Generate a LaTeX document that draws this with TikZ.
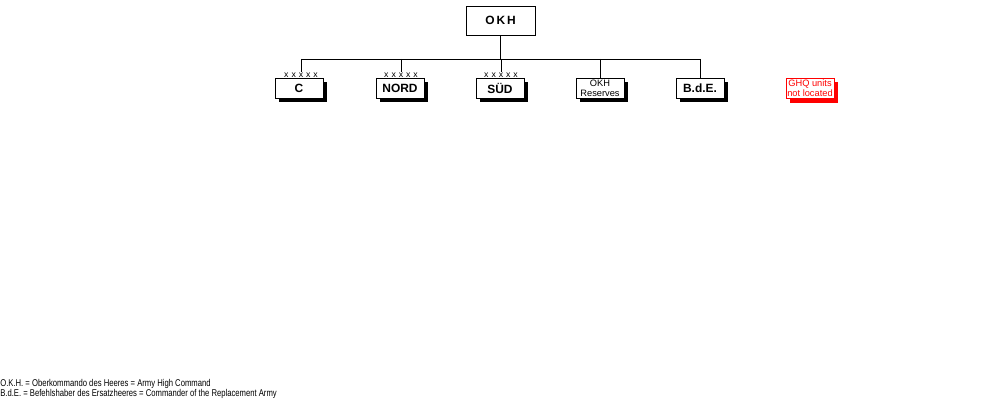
\documentclass[tikz,border=0pt]{standalone}
\usepackage{fontspec}
\setmainfont{Liberation Sans}
\newfontfamily\footfont[FakeStretch=0.78]{Liberation Sans}
\usetikzlibrary{shadows}
\tikzset{
x=0.025cm, y=-0.025cm,
line width=0.7pt,
box/.style={%
    rectangle,
    minimum width=1.2cm,
    minimum height=0.5cm,
    inner sep=0pt,
    draw=black,
    fill=white,
    drop shadow={shadow xshift=0.1cm, shadow yshift=-0.1cm, fill=black, opacity=1},
    font=\fontsize{8.5}{8.5}\selectfont\bfseries
},
small box/.style={%
    box, align=center,
    font=\fontsize{6.6}{7}\selectfont
},
lost/.style={%
    small box, draw=red, text=red,
    drop shadow={shadow xshift=0.1cm, shadow yshift=-0.1cm, fill=red, opacity=1}
},
crosses/.style={%
    inner sep=0.5pt,
    font=\fontsize{6.2}{6}\selectfont\addfontfeature{LetterSpace=34}
},
legend/.style={%
    anchor=base west, inner sep=0pt,
    font=\footfont\fontsize{7}{7}\selectfont
},
}

\begin{document}
\begin{tikzpicture}
	\useasboundingbox (0,0) rectangle (1000,400);

	\node[draw, minimum width=1.725cm, minimum height=0.725cm,
	      font=\fontsize{8.5}{8.5}\selectfont\bfseries\addfontfeature{LetterSpace=16}]
	      at (500.5,20.5) (okh) {OKH};

	\node[box] at (299,88) (c) {C};
	\node[box] at (400,88) (nord) {NORD};
	\node[box] at (500,88) (sud) {SÜD};
	\node[small box] at (600,88) (res) {OKH\\Reserves};
	\node[box] at (700,88) (bde) {B.d.E.};
	\node[lost] at (810,88.5) (ghq) {GHQ units\\not located};

	\node[crosses] at (301,75.5) (xc) {xxxxx};
	\node[crosses] at (401,75.5) (xnord) {xxxxx};
	\node[crosses] at (501,75.5) (xsud) {xxxxx};

	\coordinate (bus) at (500,59);
	\draw (okh) -- (okh |- bus);
	\draw (bus -| xc) -- (bus -| bde);
	\foreach \n in {xc, xnord, xsud, res, bde}
		\draw (bus -| \n) -- (\n);

	\node[legend] at (0,386) (okhnote) {O.K.H. = Oberkommando des Heeres = Army High Command};
	\node[legend] at (0,396) (bdenote) {B.d.E. = Befehlshaber des Ersatzheeres = Commander of the Replacement Army};
\end{tikzpicture}
\end{document}
